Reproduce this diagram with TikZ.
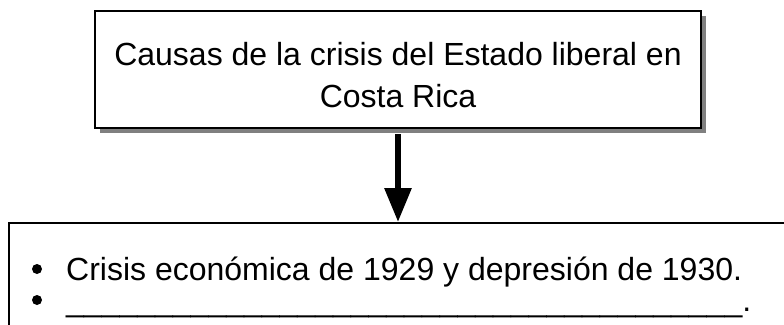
\documentclass[tikz,border=0pt]{standalone}
\usepackage{fontspec}
\setmainfont{Liberation Sans}
\usepackage{tikz}
\usetikzlibrary{arrows.meta}
\usetikzlibrary{shadows}
\usetikzlibrary{positioning}

\tikzset{
  caja/.style={draw, line width=2pt, fill=white},
  sombra/.style={general shadow={fill=gray, shadow xshift=5pt, shadow yshift=-5pt}},
  flecha/.style={line width=6pt, -{Triangle[width=26pt,length=34pt]}},
  texto/.style={font=\fontsize{32}{42}\selectfont, inner sep=0pt},
  vineta/.style={circle, fill=black, inner sep=0pt, minimum size=10pt},
}

\begin{document}
\begin{tikzpicture}[x=1pt, y=1pt]
    \path[use as bounding box, clip] (0,0) rectangle (784,-324);

    \node[caja, sombra, texto, align=center, minimum width=606pt, minimum height=117pt] (causas) at (398,-69.5) {\rule{0pt}{35pt}Causas de la crisis del Estado liberal en\\Costa Rica};
    \node[caja, anchor=north west, minimum width=800pt, minimum height=130pt] (lista) at (8,-222) {};
    \draw[flecha, shorten <=5pt] (causas.south) -- (causas.south |- lista.north);

    \node[vineta] (punto1) at (37,-269) {};
    \node[vineta] (punto2) at (37,-300) {};
    \node[texto, anchor=base west] (item1) at (66,-280) {Crisis económica de 1929 y depresión de 1930.};
    \node[texto, anchor=base west] (item2) at (66,-311) {\_\_\_\_\_\_\_\_\_\_\_\_\_\_\_\_\_\_\_\_\_\_\_\_\_\_\_\_\_\_\_\_\_\_\_\_\_\_.};
\end{tikzpicture}
\end{document}
